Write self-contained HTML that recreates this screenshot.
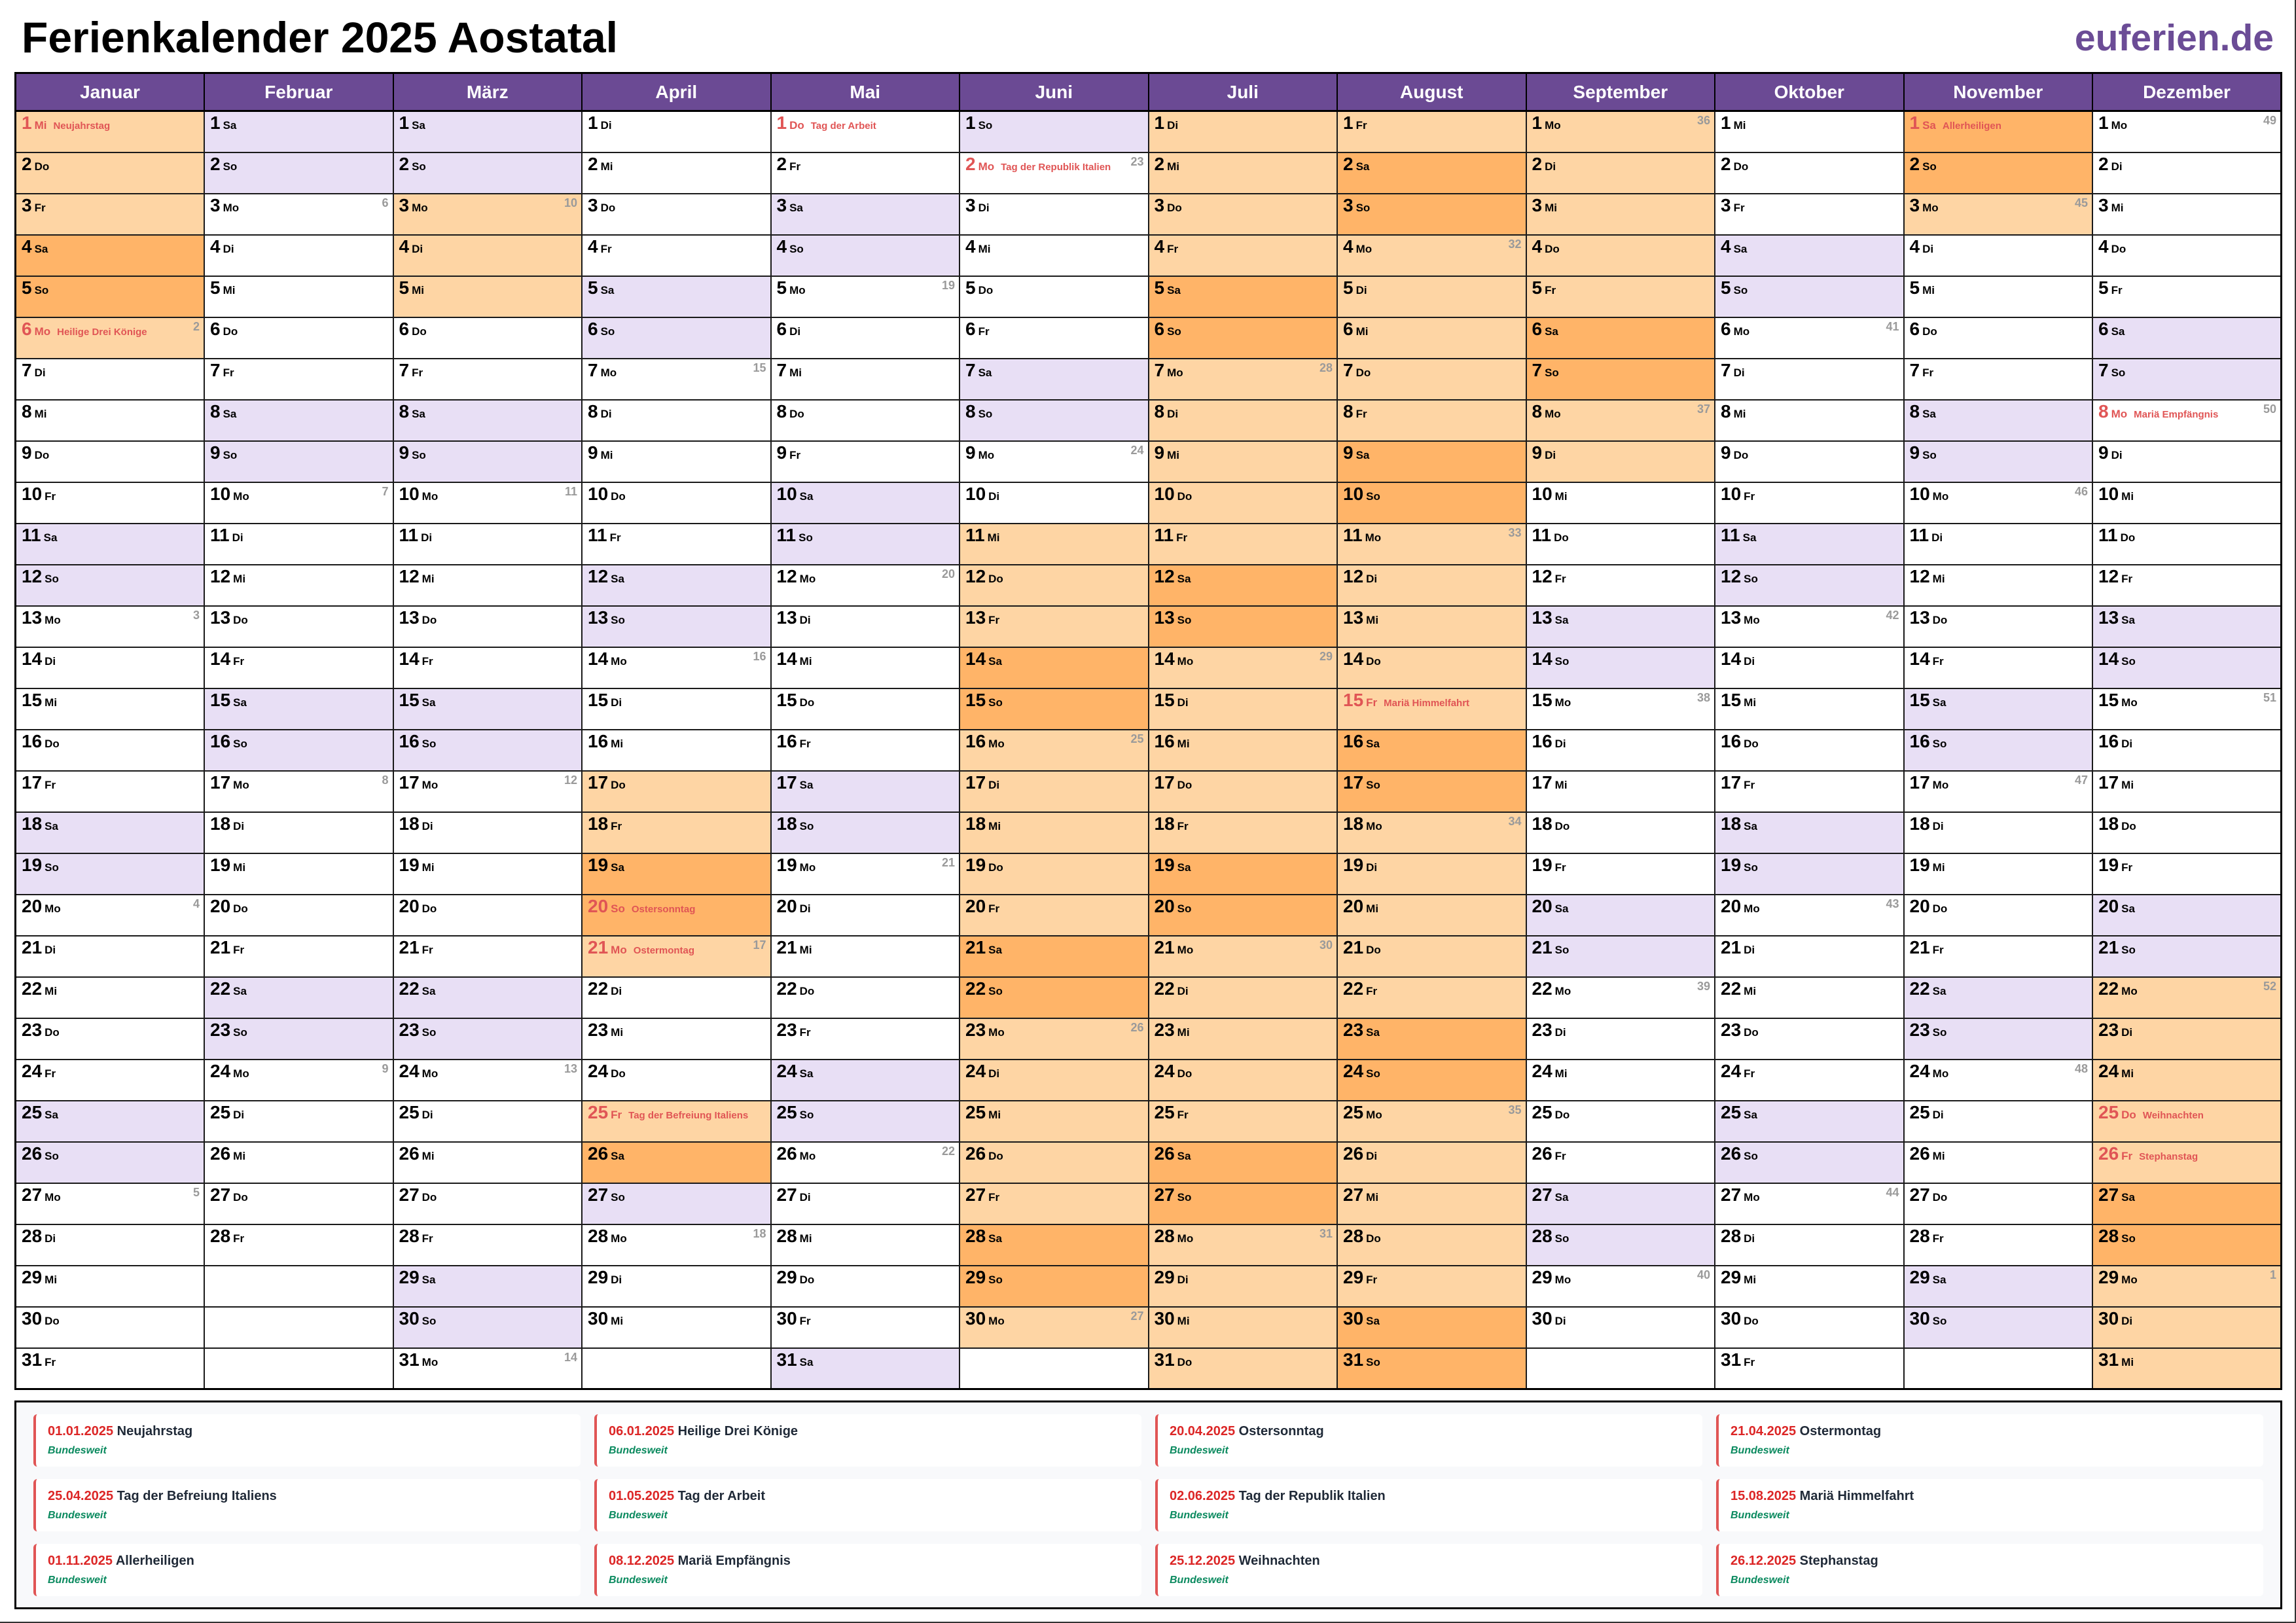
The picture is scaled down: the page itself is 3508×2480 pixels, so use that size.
<!DOCTYPE html>
<html><head><meta charset="utf-8"><style>
*{box-sizing:border-box}
body{margin:0;width:3508px;height:2480px;position:relative;overflow:hidden;background:#fff;font-family:"Liberation Sans",Arial,sans-serif;border-right:2px solid #333;border-bottom:2px solid #333}
#t{position:absolute;left:33px;top:24px;font-size:66px;font-weight:bold;line-height:1;color:#000}
#l{position:absolute;right:32px;top:30px;font-size:57px;font-weight:bold;line-height:1;color:#6b4c96}
table{position:absolute;left:22px;top:110px;width:3465px;border-collapse:collapse;table-layout:fixed;border:3px solid #000}
th{background:#6b4a94;color:#fff;font-size:28px;font-weight:bold;height:58px;border:2px solid #000;border-bottom:3px solid #000;padding:0}
td{height:63px;border:2px solid #1a1a1a;vertical-align:top;padding:3px 8px 0;position:relative;white-space:nowrap;overflow:hidden;line-height:28px}
td b{font-size:28px;font-weight:bold}
td i{font-style:normal;font-size:17px;font-weight:bold;margin-left:4px}
td em{font-style:normal;font-size:15px;font-weight:bold;margin-left:10px;color:#e05555}
td s{position:absolute;right:6px;top:2px;font-size:18px;font-weight:bold;color:#9a9a9a;text-decoration:none;line-height:22px}
.h b,.h i{color:#e05555}
.w{background:#e8dff5}.v{background:#fed5a4}.x{background:#ffb468}
#g{position:absolute;left:22px;top:2140px;width:3465px;height:319px;border:3px solid #000;background:#f8f9fb;padding:18px 0 0 26px;display:grid;grid-template-columns:repeat(4,836px);grid-auto-rows:80px;column-gap:21px;row-gap:19px}
.c{background:#fff;border-left:4px solid #e05555;border-radius:6px;padding:14px 0 0 18px}
.c p{margin:0;font-size:20px;font-weight:bold;line-height:24px;color:#1f2937}
.c p span{color:#dc2626}
.c div{margin-top:9px;font-size:16px;font-style:italic;font-weight:bold;color:#0b8a5f;line-height:18px}
</style></head><body>
<div id="t">Ferienkalender 2025 Aostatal</div>
<div id="l">euferien.de</div>
<table>
<tr><th>Januar</th><th>Februar</th><th>März</th><th>April</th><th>Mai</th><th>Juni</th><th>Juli</th><th>August</th><th>September</th><th>Oktober</th><th>November</th><th>Dezember</th></tr>
<tr><td class="v h"><b>1</b><i>Mi</i><em>Neujahrstag</em></td><td class=w><b>1</b><i>Sa</i></td><td class=w><b>1</b><i>Sa</i></td><td><b>1</b><i>Di</i></td><td class=h><b>1</b><i>Do</i><em>Tag der Arbeit</em></td><td class=w><b>1</b><i>So</i></td><td class=v><b>1</b><i>Di</i></td><td class=v><b>1</b><i>Fr</i></td><td class=v><b>1</b><i>Mo</i><s>36</s></td><td><b>1</b><i>Mi</i></td><td class="x h"><b>1</b><i>Sa</i><em>Allerheiligen</em></td><td><b>1</b><i>Mo</i><s>49</s></td></tr>
<tr><td class=v><b>2</b><i>Do</i></td><td class=w><b>2</b><i>So</i></td><td class=w><b>2</b><i>So</i></td><td><b>2</b><i>Mi</i></td><td><b>2</b><i>Fr</i></td><td class=h><b>2</b><i>Mo</i><em>Tag der Republik Italien</em><s>23</s></td><td class=v><b>2</b><i>Mi</i></td><td class=x><b>2</b><i>Sa</i></td><td class=v><b>2</b><i>Di</i></td><td><b>2</b><i>Do</i></td><td class=x><b>2</b><i>So</i></td><td><b>2</b><i>Di</i></td></tr>
<tr><td class=v><b>3</b><i>Fr</i></td><td><b>3</b><i>Mo</i><s>6</s></td><td class=v><b>3</b><i>Mo</i><s>10</s></td><td><b>3</b><i>Do</i></td><td class=w><b>3</b><i>Sa</i></td><td><b>3</b><i>Di</i></td><td class=v><b>3</b><i>Do</i></td><td class=x><b>3</b><i>So</i></td><td class=v><b>3</b><i>Mi</i></td><td><b>3</b><i>Fr</i></td><td class=v><b>3</b><i>Mo</i><s>45</s></td><td><b>3</b><i>Mi</i></td></tr>
<tr><td class=x><b>4</b><i>Sa</i></td><td><b>4</b><i>Di</i></td><td class=v><b>4</b><i>Di</i></td><td><b>4</b><i>Fr</i></td><td class=w><b>4</b><i>So</i></td><td><b>4</b><i>Mi</i></td><td class=v><b>4</b><i>Fr</i></td><td class=v><b>4</b><i>Mo</i><s>32</s></td><td class=v><b>4</b><i>Do</i></td><td class=w><b>4</b><i>Sa</i></td><td><b>4</b><i>Di</i></td><td><b>4</b><i>Do</i></td></tr>
<tr><td class=x><b>5</b><i>So</i></td><td><b>5</b><i>Mi</i></td><td class=v><b>5</b><i>Mi</i></td><td class=w><b>5</b><i>Sa</i></td><td><b>5</b><i>Mo</i><s>19</s></td><td><b>5</b><i>Do</i></td><td class=x><b>5</b><i>Sa</i></td><td class=v><b>5</b><i>Di</i></td><td class=v><b>5</b><i>Fr</i></td><td class=w><b>5</b><i>So</i></td><td><b>5</b><i>Mi</i></td><td><b>5</b><i>Fr</i></td></tr>
<tr><td class="v h"><b>6</b><i>Mo</i><em>Heilige Drei Könige</em><s>2</s></td><td><b>6</b><i>Do</i></td><td><b>6</b><i>Do</i></td><td class=w><b>6</b><i>So</i></td><td><b>6</b><i>Di</i></td><td><b>6</b><i>Fr</i></td><td class=x><b>6</b><i>So</i></td><td class=v><b>6</b><i>Mi</i></td><td class=x><b>6</b><i>Sa</i></td><td><b>6</b><i>Mo</i><s>41</s></td><td><b>6</b><i>Do</i></td><td class=w><b>6</b><i>Sa</i></td></tr>
<tr><td><b>7</b><i>Di</i></td><td><b>7</b><i>Fr</i></td><td><b>7</b><i>Fr</i></td><td><b>7</b><i>Mo</i><s>15</s></td><td><b>7</b><i>Mi</i></td><td class=w><b>7</b><i>Sa</i></td><td class=v><b>7</b><i>Mo</i><s>28</s></td><td class=v><b>7</b><i>Do</i></td><td class=x><b>7</b><i>So</i></td><td><b>7</b><i>Di</i></td><td><b>7</b><i>Fr</i></td><td class=w><b>7</b><i>So</i></td></tr>
<tr><td><b>8</b><i>Mi</i></td><td class=w><b>8</b><i>Sa</i></td><td class=w><b>8</b><i>Sa</i></td><td><b>8</b><i>Di</i></td><td><b>8</b><i>Do</i></td><td class=w><b>8</b><i>So</i></td><td class=v><b>8</b><i>Di</i></td><td class=v><b>8</b><i>Fr</i></td><td class=v><b>8</b><i>Mo</i><s>37</s></td><td><b>8</b><i>Mi</i></td><td class=w><b>8</b><i>Sa</i></td><td class=h><b>8</b><i>Mo</i><em>Mariä Empfängnis</em><s>50</s></td></tr>
<tr><td><b>9</b><i>Do</i></td><td class=w><b>9</b><i>So</i></td><td class=w><b>9</b><i>So</i></td><td><b>9</b><i>Mi</i></td><td><b>9</b><i>Fr</i></td><td><b>9</b><i>Mo</i><s>24</s></td><td class=v><b>9</b><i>Mi</i></td><td class=x><b>9</b><i>Sa</i></td><td class=v><b>9</b><i>Di</i></td><td><b>9</b><i>Do</i></td><td class=w><b>9</b><i>So</i></td><td><b>9</b><i>Di</i></td></tr>
<tr><td><b>10</b><i>Fr</i></td><td><b>10</b><i>Mo</i><s>7</s></td><td><b>10</b><i>Mo</i><s>11</s></td><td><b>10</b><i>Do</i></td><td class=w><b>10</b><i>Sa</i></td><td><b>10</b><i>Di</i></td><td class=v><b>10</b><i>Do</i></td><td class=x><b>10</b><i>So</i></td><td><b>10</b><i>Mi</i></td><td><b>10</b><i>Fr</i></td><td><b>10</b><i>Mo</i><s>46</s></td><td><b>10</b><i>Mi</i></td></tr>
<tr><td class=w><b>11</b><i>Sa</i></td><td><b>11</b><i>Di</i></td><td><b>11</b><i>Di</i></td><td><b>11</b><i>Fr</i></td><td class=w><b>11</b><i>So</i></td><td class=v><b>11</b><i>Mi</i></td><td class=v><b>11</b><i>Fr</i></td><td class=v><b>11</b><i>Mo</i><s>33</s></td><td><b>11</b><i>Do</i></td><td class=w><b>11</b><i>Sa</i></td><td><b>11</b><i>Di</i></td><td><b>11</b><i>Do</i></td></tr>
<tr><td class=w><b>12</b><i>So</i></td><td><b>12</b><i>Mi</i></td><td><b>12</b><i>Mi</i></td><td class=w><b>12</b><i>Sa</i></td><td><b>12</b><i>Mo</i><s>20</s></td><td class=v><b>12</b><i>Do</i></td><td class=x><b>12</b><i>Sa</i></td><td class=v><b>12</b><i>Di</i></td><td><b>12</b><i>Fr</i></td><td class=w><b>12</b><i>So</i></td><td><b>12</b><i>Mi</i></td><td><b>12</b><i>Fr</i></td></tr>
<tr><td><b>13</b><i>Mo</i><s>3</s></td><td><b>13</b><i>Do</i></td><td><b>13</b><i>Do</i></td><td class=w><b>13</b><i>So</i></td><td><b>13</b><i>Di</i></td><td class=v><b>13</b><i>Fr</i></td><td class=x><b>13</b><i>So</i></td><td class=v><b>13</b><i>Mi</i></td><td class=w><b>13</b><i>Sa</i></td><td><b>13</b><i>Mo</i><s>42</s></td><td><b>13</b><i>Do</i></td><td class=w><b>13</b><i>Sa</i></td></tr>
<tr><td><b>14</b><i>Di</i></td><td><b>14</b><i>Fr</i></td><td><b>14</b><i>Fr</i></td><td><b>14</b><i>Mo</i><s>16</s></td><td><b>14</b><i>Mi</i></td><td class=x><b>14</b><i>Sa</i></td><td class=v><b>14</b><i>Mo</i><s>29</s></td><td class=v><b>14</b><i>Do</i></td><td class=w><b>14</b><i>So</i></td><td><b>14</b><i>Di</i></td><td><b>14</b><i>Fr</i></td><td class=w><b>14</b><i>So</i></td></tr>
<tr><td><b>15</b><i>Mi</i></td><td class=w><b>15</b><i>Sa</i></td><td class=w><b>15</b><i>Sa</i></td><td><b>15</b><i>Di</i></td><td><b>15</b><i>Do</i></td><td class=x><b>15</b><i>So</i></td><td class=v><b>15</b><i>Di</i></td><td class="v h"><b>15</b><i>Fr</i><em>Mariä Himmelfahrt</em></td><td><b>15</b><i>Mo</i><s>38</s></td><td><b>15</b><i>Mi</i></td><td class=w><b>15</b><i>Sa</i></td><td><b>15</b><i>Mo</i><s>51</s></td></tr>
<tr><td><b>16</b><i>Do</i></td><td class=w><b>16</b><i>So</i></td><td class=w><b>16</b><i>So</i></td><td><b>16</b><i>Mi</i></td><td><b>16</b><i>Fr</i></td><td class=v><b>16</b><i>Mo</i><s>25</s></td><td class=v><b>16</b><i>Mi</i></td><td class=x><b>16</b><i>Sa</i></td><td><b>16</b><i>Di</i></td><td><b>16</b><i>Do</i></td><td class=w><b>16</b><i>So</i></td><td><b>16</b><i>Di</i></td></tr>
<tr><td><b>17</b><i>Fr</i></td><td><b>17</b><i>Mo</i><s>8</s></td><td><b>17</b><i>Mo</i><s>12</s></td><td class=v><b>17</b><i>Do</i></td><td class=w><b>17</b><i>Sa</i></td><td class=v><b>17</b><i>Di</i></td><td class=v><b>17</b><i>Do</i></td><td class=x><b>17</b><i>So</i></td><td><b>17</b><i>Mi</i></td><td><b>17</b><i>Fr</i></td><td><b>17</b><i>Mo</i><s>47</s></td><td><b>17</b><i>Mi</i></td></tr>
<tr><td class=w><b>18</b><i>Sa</i></td><td><b>18</b><i>Di</i></td><td><b>18</b><i>Di</i></td><td class=v><b>18</b><i>Fr</i></td><td class=w><b>18</b><i>So</i></td><td class=v><b>18</b><i>Mi</i></td><td class=v><b>18</b><i>Fr</i></td><td class=v><b>18</b><i>Mo</i><s>34</s></td><td><b>18</b><i>Do</i></td><td class=w><b>18</b><i>Sa</i></td><td><b>18</b><i>Di</i></td><td><b>18</b><i>Do</i></td></tr>
<tr><td class=w><b>19</b><i>So</i></td><td><b>19</b><i>Mi</i></td><td><b>19</b><i>Mi</i></td><td class=x><b>19</b><i>Sa</i></td><td><b>19</b><i>Mo</i><s>21</s></td><td class=v><b>19</b><i>Do</i></td><td class=x><b>19</b><i>Sa</i></td><td class=v><b>19</b><i>Di</i></td><td><b>19</b><i>Fr</i></td><td class=w><b>19</b><i>So</i></td><td><b>19</b><i>Mi</i></td><td><b>19</b><i>Fr</i></td></tr>
<tr><td><b>20</b><i>Mo</i><s>4</s></td><td><b>20</b><i>Do</i></td><td><b>20</b><i>Do</i></td><td class="x h"><b>20</b><i>So</i><em>Ostersonntag</em></td><td><b>20</b><i>Di</i></td><td class=v><b>20</b><i>Fr</i></td><td class=x><b>20</b><i>So</i></td><td class=v><b>20</b><i>Mi</i></td><td class=w><b>20</b><i>Sa</i></td><td><b>20</b><i>Mo</i><s>43</s></td><td><b>20</b><i>Do</i></td><td class=w><b>20</b><i>Sa</i></td></tr>
<tr><td><b>21</b><i>Di</i></td><td><b>21</b><i>Fr</i></td><td><b>21</b><i>Fr</i></td><td class="v h"><b>21</b><i>Mo</i><em>Ostermontag</em><s>17</s></td><td><b>21</b><i>Mi</i></td><td class=x><b>21</b><i>Sa</i></td><td class=v><b>21</b><i>Mo</i><s>30</s></td><td class=v><b>21</b><i>Do</i></td><td class=w><b>21</b><i>So</i></td><td><b>21</b><i>Di</i></td><td><b>21</b><i>Fr</i></td><td class=w><b>21</b><i>So</i></td></tr>
<tr><td><b>22</b><i>Mi</i></td><td class=w><b>22</b><i>Sa</i></td><td class=w><b>22</b><i>Sa</i></td><td><b>22</b><i>Di</i></td><td><b>22</b><i>Do</i></td><td class=x><b>22</b><i>So</i></td><td class=v><b>22</b><i>Di</i></td><td class=v><b>22</b><i>Fr</i></td><td><b>22</b><i>Mo</i><s>39</s></td><td><b>22</b><i>Mi</i></td><td class=w><b>22</b><i>Sa</i></td><td class=v><b>22</b><i>Mo</i><s>52</s></td></tr>
<tr><td><b>23</b><i>Do</i></td><td class=w><b>23</b><i>So</i></td><td class=w><b>23</b><i>So</i></td><td><b>23</b><i>Mi</i></td><td><b>23</b><i>Fr</i></td><td class=v><b>23</b><i>Mo</i><s>26</s></td><td class=v><b>23</b><i>Mi</i></td><td class=x><b>23</b><i>Sa</i></td><td><b>23</b><i>Di</i></td><td><b>23</b><i>Do</i></td><td class=w><b>23</b><i>So</i></td><td class=v><b>23</b><i>Di</i></td></tr>
<tr><td><b>24</b><i>Fr</i></td><td><b>24</b><i>Mo</i><s>9</s></td><td><b>24</b><i>Mo</i><s>13</s></td><td><b>24</b><i>Do</i></td><td class=w><b>24</b><i>Sa</i></td><td class=v><b>24</b><i>Di</i></td><td class=v><b>24</b><i>Do</i></td><td class=x><b>24</b><i>So</i></td><td><b>24</b><i>Mi</i></td><td><b>24</b><i>Fr</i></td><td><b>24</b><i>Mo</i><s>48</s></td><td class=v><b>24</b><i>Mi</i></td></tr>
<tr><td class=w><b>25</b><i>Sa</i></td><td><b>25</b><i>Di</i></td><td><b>25</b><i>Di</i></td><td class="v h"><b>25</b><i>Fr</i><em>Tag der Befreiung Italiens</em></td><td class=w><b>25</b><i>So</i></td><td class=v><b>25</b><i>Mi</i></td><td class=v><b>25</b><i>Fr</i></td><td class=v><b>25</b><i>Mo</i><s>35</s></td><td><b>25</b><i>Do</i></td><td class=w><b>25</b><i>Sa</i></td><td><b>25</b><i>Di</i></td><td class="v h"><b>25</b><i>Do</i><em>Weihnachten</em></td></tr>
<tr><td class=w><b>26</b><i>So</i></td><td><b>26</b><i>Mi</i></td><td><b>26</b><i>Mi</i></td><td class=x><b>26</b><i>Sa</i></td><td><b>26</b><i>Mo</i><s>22</s></td><td class=v><b>26</b><i>Do</i></td><td class=x><b>26</b><i>Sa</i></td><td class=v><b>26</b><i>Di</i></td><td><b>26</b><i>Fr</i></td><td class=w><b>26</b><i>So</i></td><td><b>26</b><i>Mi</i></td><td class="v h"><b>26</b><i>Fr</i><em>Stephanstag</em></td></tr>
<tr><td><b>27</b><i>Mo</i><s>5</s></td><td><b>27</b><i>Do</i></td><td><b>27</b><i>Do</i></td><td class=w><b>27</b><i>So</i></td><td><b>27</b><i>Di</i></td><td class=v><b>27</b><i>Fr</i></td><td class=x><b>27</b><i>So</i></td><td class=v><b>27</b><i>Mi</i></td><td class=w><b>27</b><i>Sa</i></td><td><b>27</b><i>Mo</i><s>44</s></td><td><b>27</b><i>Do</i></td><td class=x><b>27</b><i>Sa</i></td></tr>
<tr><td><b>28</b><i>Di</i></td><td><b>28</b><i>Fr</i></td><td><b>28</b><i>Fr</i></td><td><b>28</b><i>Mo</i><s>18</s></td><td><b>28</b><i>Mi</i></td><td class=x><b>28</b><i>Sa</i></td><td class=v><b>28</b><i>Mo</i><s>31</s></td><td class=v><b>28</b><i>Do</i></td><td class=w><b>28</b><i>So</i></td><td><b>28</b><i>Di</i></td><td><b>28</b><i>Fr</i></td><td class=x><b>28</b><i>So</i></td></tr>
<tr><td><b>29</b><i>Mi</i></td><td></td><td class=w><b>29</b><i>Sa</i></td><td><b>29</b><i>Di</i></td><td><b>29</b><i>Do</i></td><td class=x><b>29</b><i>So</i></td><td class=v><b>29</b><i>Di</i></td><td class=v><b>29</b><i>Fr</i></td><td><b>29</b><i>Mo</i><s>40</s></td><td><b>29</b><i>Mi</i></td><td class=w><b>29</b><i>Sa</i></td><td class=v><b>29</b><i>Mo</i><s>1</s></td></tr>
<tr><td><b>30</b><i>Do</i></td><td></td><td class=w><b>30</b><i>So</i></td><td><b>30</b><i>Mi</i></td><td><b>30</b><i>Fr</i></td><td class=v><b>30</b><i>Mo</i><s>27</s></td><td class=v><b>30</b><i>Mi</i></td><td class=x><b>30</b><i>Sa</i></td><td><b>30</b><i>Di</i></td><td><b>30</b><i>Do</i></td><td class=w><b>30</b><i>So</i></td><td class=v><b>30</b><i>Di</i></td></tr>
<tr><td><b>31</b><i>Fr</i></td><td></td><td><b>31</b><i>Mo</i><s>14</s></td><td></td><td class=w><b>31</b><i>Sa</i></td><td></td><td class=v><b>31</b><i>Do</i></td><td class=x><b>31</b><i>So</i></td><td></td><td><b>31</b><i>Fr</i></td><td></td><td class=v><b>31</b><i>Mi</i></td></tr>
</table>
<div id="g">
<div class="c"><p><span>01.01.2025</span> Neujahrstag</p><div>Bundesweit</div></div>
<div class="c"><p><span>06.01.2025</span> Heilige Drei Könige</p><div>Bundesweit</div></div>
<div class="c"><p><span>20.04.2025</span> Ostersonntag</p><div>Bundesweit</div></div>
<div class="c"><p><span>21.04.2025</span> Ostermontag</p><div>Bundesweit</div></div>
<div class="c"><p><span>25.04.2025</span> Tag der Befreiung Italiens</p><div>Bundesweit</div></div>
<div class="c"><p><span>01.05.2025</span> Tag der Arbeit</p><div>Bundesweit</div></div>
<div class="c"><p><span>02.06.2025</span> Tag der Republik Italien</p><div>Bundesweit</div></div>
<div class="c"><p><span>15.08.2025</span> Mariä Himmelfahrt</p><div>Bundesweit</div></div>
<div class="c"><p><span>01.11.2025</span> Allerheiligen</p><div>Bundesweit</div></div>
<div class="c"><p><span>08.12.2025</span> Mariä Empfängnis</p><div>Bundesweit</div></div>
<div class="c"><p><span>25.12.2025</span> Weihnachten</p><div>Bundesweit</div></div>
<div class="c"><p><span>26.12.2025</span> Stephanstag</p><div>Bundesweit</div></div>
</div>
</body></html>
